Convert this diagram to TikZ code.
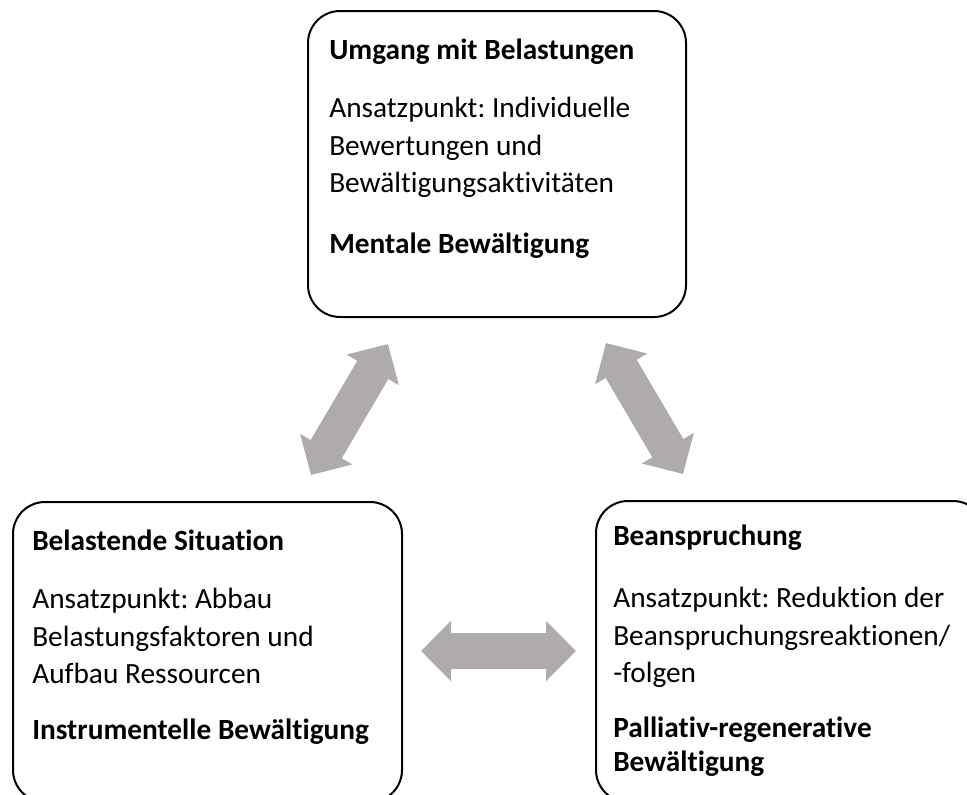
\documentclass[tikz,border=0pt]{standalone}
\usepackage{fontspec}
\setmainfont{Carlito}[Ligatures=NoCommon]
\frenchspacing
\usetikzlibrary{arrows.meta}
\definecolor{arrowgray}{RGB}{175,171,171}

\begin{document}
\begin{tikzpicture}[x=0.75pt, y=-0.75pt] % one unit is one pixel of the layout
    \tikzstyle{box}=[draw=black, line width=1.5pt, rounded corners=24pt, inner sep=0pt, outer sep=0pt, anchor=north west]
    \tikzstyle{txt}=[anchor=base west, inner sep=0pt, text width=14cm, align=flush left, font=\fontsize{22pt}{28.1pt}\selectfont]
    \tikzstyle{dblarrow}=[draw=arrowgray, line width=27pt, {Triangle[length=22.5pt, width=44pt]}-{Triangle[length=22.5pt, width=44pt]}]
    \useasboundingbox (0,0) rectangle (967,794);

    % Boxes
    \node[box, minimum width=283.5pt, minimum height=229.5pt] (umgang) at (308,11) {};
    \node[box, minimum width=291.75pt, minimum height=225pt] (situation) at (13,502) {};
    \node[box, minimum width=291.75pt, minimum height=225.75pt] (beanspruchung) at (596,501) {};

    % Texts
    \node[txt] (umgangtext) at (329,59) {\textbf{Umgang mit Belastungen}\\[16pt]
        Ansatzpunkt: Individuelle\\ Bewertungen und\\ Bewältigungsaktivitäten\\[17.6pt]
        \textbf{Mentale Bewältigung}};
    \node[txt] (situationtext) at (32,550) {\textbf{Belastende Situation}\\[16pt]
        Ansatzpunkt: Abbau\\ Belastungsfaktoren und\\ Aufbau Ressourcen\\[14pt]
        \textbf{Instrumentelle Bewältigung}};
    \node[txt] (beanspruchungtext) at (613,545) {\textbf{Beanspruchung}\\[19pt]
        Ansatzpunkt: Reduktion der\\ Beanspruchungsreaktionen/\\ -folgen\\[13pt]
        \textbf{Palliativ-regenerative}\\[-2.6pt] \textbf{Bewältigung}};

    % Arrow ends
    \coordinate (sitend) at (311,475);
    \coordinate (umgleft) at (388,344);
    \coordinate (umgright) at (606,343);
    \coordinate (beaend) at (683,474);
    \coordinate (sitright) at (421,651);
    \coordinate (bealeft) at (576,651);

    \draw[dblarrow] (sitend) -- (umgleft);
    \draw[dblarrow] (umgright) -- (beaend);
    \draw[dblarrow] (sitright) -- (bealeft);
\end{tikzpicture}
\end{document}
